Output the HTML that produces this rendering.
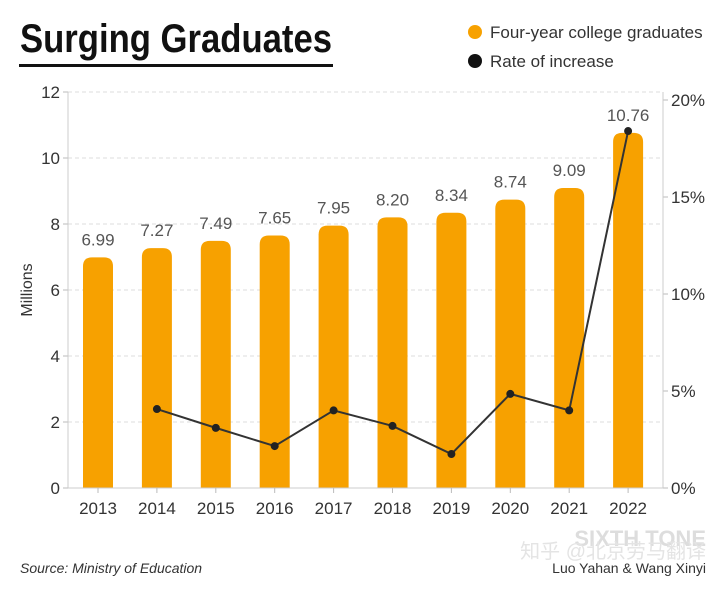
<!DOCTYPE html>
<html><head><meta charset="utf-8"><style>
body{margin:0;background:#fff;}
svg text{font-family:"Liberation Sans","Noto Sans CJK SC",sans-serif;}
</style></head><body>
<svg width="720" height="586" viewBox="0 0 720 586" xmlns="http://www.w3.org/2000/svg">
<text x="20" y="52" font-size="40" font-weight="bold" fill="#111" style="font-family:'Liberation Sans Narrow','Liberation Sans',sans-serif" textLength="312" lengthAdjust="spacingAndGlyphs">Surging Graduates</text>
<rect x="19" y="64" width="314" height="3" fill="#111"/>
<g>
<circle cx="475" cy="32" r="7" fill="#f7a100"/>
<text x="490" y="38" font-size="17" fill="#333">Four-year college graduates</text>
<circle cx="475" cy="61" r="7" fill="#111"/>
<text x="490" y="67" font-size="17" fill="#333">Rate of increase</text>
</g>
<g id="grid"></g><g id="bars"></g><g id="axes"></g><g id="line"></g>
<text transform="translate(32,290) rotate(-90)" text-anchor="middle" font-size="16" fill="#333">Millions</text>
<text x="20" y="573" font-size="14" font-style="italic" fill="#333">Source: Ministry of Education</text>
<text x="706" y="546" text-anchor="end" font-size="22" font-weight="bold" fill="#ddd">SIXTH TONE</text>
<text x="706" y="558" text-anchor="end" font-size="20" fill="#e4e4e4">知乎 @北京劳马翻译</text>
<text x="706" y="573" text-anchor="end" font-size="14" fill="#333">Luo Yahan &amp; Wang Xinyi</text>
</svg>
<script>
const years=['2013','2014','2015','2016','2017','2018','2019','2020','2021','2022'];
const grads=[6.99,7.27,7.49,7.65,7.95,8.20,8.34,8.74,9.09,10.76];
const gradLabels=['6.99','7.27','7.49','7.65','7.95','8.20','8.34','8.74','9.09','10.76'];
const rates=[null,4.07,3.1,2.16,4.0,3.2,1.75,4.85,4.0,18.4];
const leftTicks=[0,2,4,6,8,10,12];
const rightTicks=[0,5,10,15,20];
const NS='http://www.w3.org/2000/svg';
const xL=68,xR=663,y0=488;
const yL=v=>y0-v*33;
const yR=v=>y0-v*19.4;
const xB=i=>98+i*58.9;
function mk(t,a,p){const e=document.createElementNS(NS,t);for(const k in a)e.setAttribute(k,a[k]);p.appendChild(e);return e;}
const grid=document.getElementById('grid'),bars=document.getElementById('bars'),axes=document.getElementById('axes'),line=document.getElementById('line');
leftTicks.forEach(t=>{
 if(t>0){const g=mk('line',{x1:xL,x2:xR,y1:yL(t),y2:yL(t),stroke:'#ddd','stroke-dasharray':'4,3'},grid);
 
 }
 const tk=mk('line',{x1:xL-5,x2:xL,y1:yL(t),y2:yL(t),stroke:'#bbb'},axes);
 
 
 const tx=mk('text',{x:xL-8,y:yL(t)+6,'text-anchor':'end','font-size':17,fill:'#333'},axes);tx.textContent=t;
 
 
});
rightTicks.forEach(t=>{
 const tk=mk('line',{x1:xR,x2:xR+5,y1:yR(t),y2:yR(t),stroke:'#bbb'},axes);
 
 
 const tx=mk('text',{x:xR+8,y:yR(t)+6,'font-size':17,fill:'#333'},axes);tx.textContent=t+'%';
 
 
});
let a=mk('line',{x1:xL,x2:xL,y1:yL(12),y2:y0,stroke:'#ccc'},axes);


a=mk('line',{x1:xR,x2:xR,y1:yL(12),y2:y0,stroke:'#ccc'},axes);


a=mk('line',{x1:xL,x2:xR,y1:y0,y2:y0,stroke:'#ccc'},axes);


years.forEach((yr,i)=>{
 const x=xB(i),w=30,top=yL(grads[i]),r=9;
 const b=mk('path',{d:`M${x-w/2},${y0}V${top+r}Q${x-w/2},${top} ${x-w/2+r},${top}H${x+w/2-r}Q${x+w/2},${top} ${x+w/2},${top+r}V${y0}Z`,fill:'#f7a100'},bars);
 
 
 const v=mk('text',{x:x,y:top-12,'text-anchor':'middle','font-size':17,fill:'#555'},bars);v.textContent=gradLabels[i];
 
 
 const tk=mk('line',{x1:x,x2:x,y1:y0,y2:y0+5,stroke:'#bbb'},axes);
 
 
 const tx=mk('text',{x:x,y:y0+26,'text-anchor':'middle','font-size':17,fill:'#333'},axes);tx.textContent=yr;
 
 
});
const pts=[];rates.forEach((r,i)=>{if(r!==null)pts.push([xB(i),yR(r)]);});
const pl=mk('polyline',{points:pts.map(p=>p.join(',')).join(' '),fill:'none',stroke:'#333','stroke-width':2},line);


pts.forEach(p=>{const c=mk('circle',{cx:p[0],cy:p[1],r:4,fill:'#222'},line);
 
 });
</script>
</body></html>
